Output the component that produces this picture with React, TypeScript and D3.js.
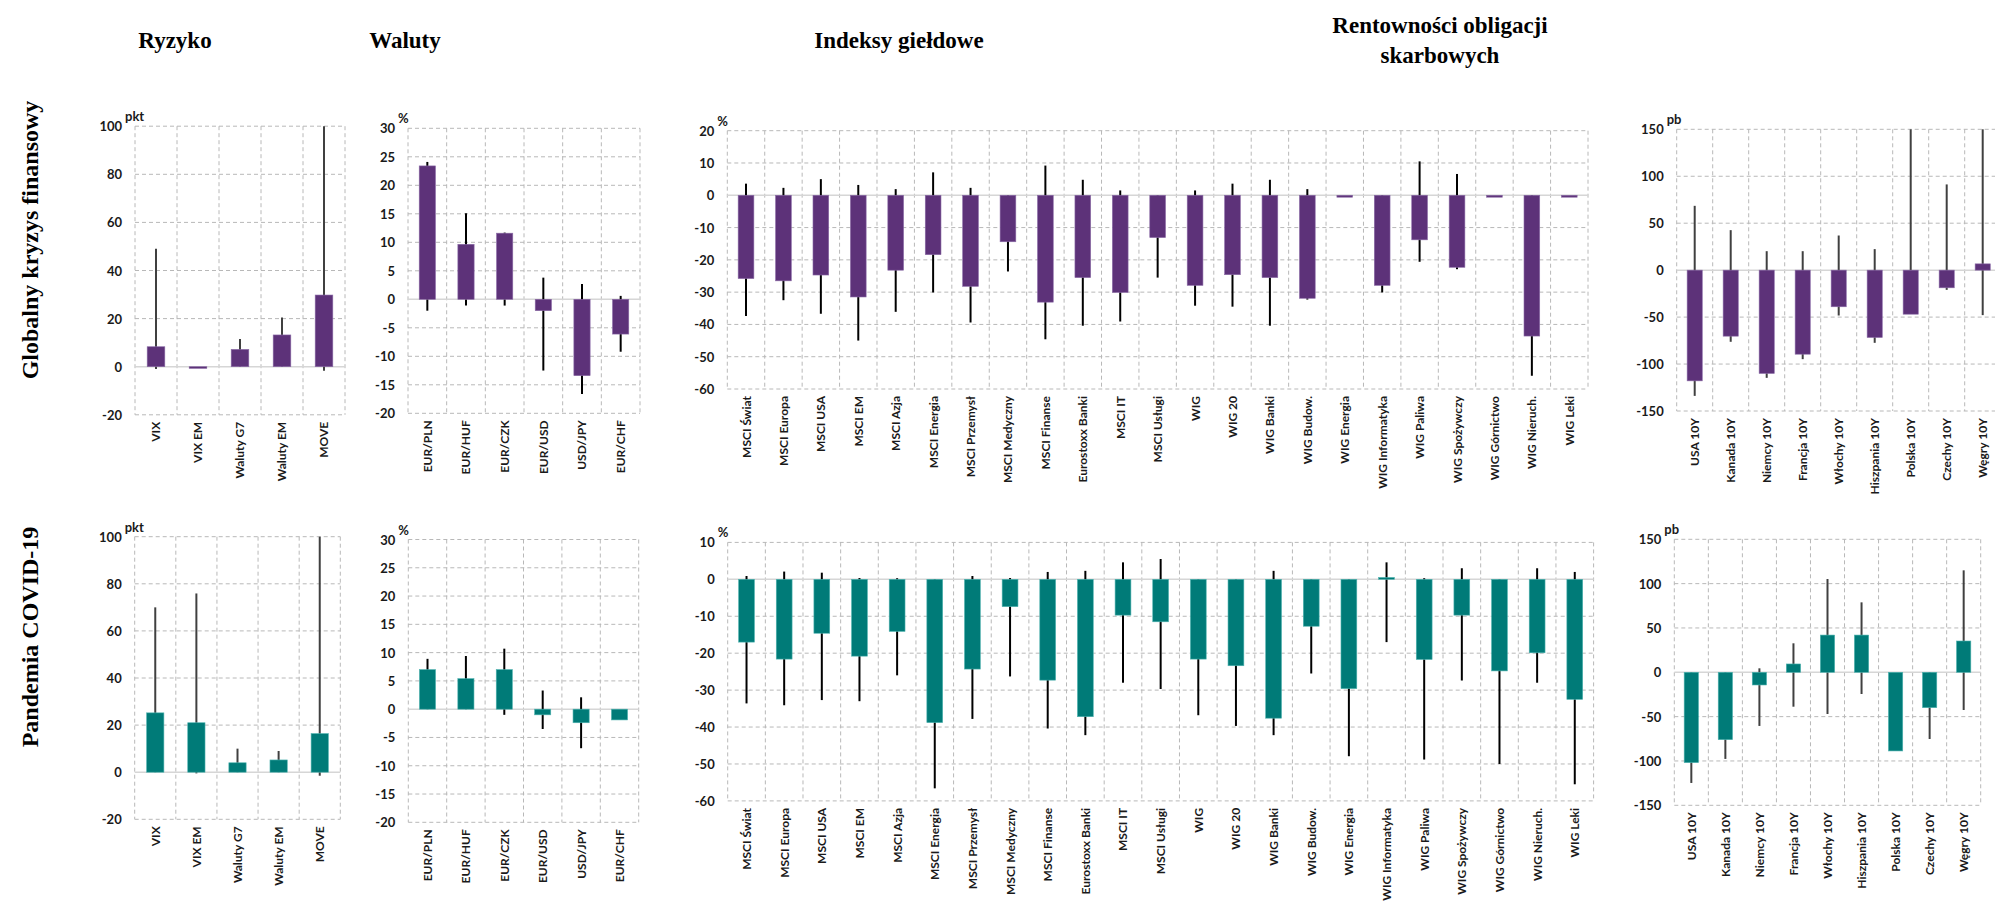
import React from 'react';
import * as d3 from 'd3';

// ---------- categories ----------
const riskCats = ['VIX', 'VIX EM', 'Waluty G7', 'Waluty EM', 'MOVE'];
const fxCats = ['EUR/PLN', 'EUR/HUF', 'EUR/CZK', 'EUR/USD', 'USD/JPY', 'EUR/CHF'];
const eqCats = [
  'MSCI Świat', 'MSCI Europa', 'MSCI USA', 'MSCI EM', 'MSCI Azja', 'MSCI Energia',
  'MSCI Przemysł', 'MSCI Medyczny', 'MSCI Finanse', 'Eurostoxx Banki', 'MSCI IT',
  'MSCI Usługi', 'WIG', 'WIG 20', 'WIG Banki', 'WIG Budow.', 'WIG Energia',
  'WIG Informatyka', 'WIG Paliwa', 'WIG Spożywczy', 'WIG Górnictwo', 'WIG Nieruch.', 'WIG Leki',
];
const bondCats = ['USA 10Y', 'Kanada 10Y', 'Niemcy 10Y', 'Francja 10Y', 'Włochy 10Y', 'Hiszpania 10Y', 'Polska 10Y', 'Czechy 10Y', 'Węgry 10Y'];

// ---------- ticks ----------
const riskTicks = [-20, 0, 20, 40, 60, 80, 100];
const fxTicks = [-20, -15, -10, -5, 0, 5, 10, 15, 20, 25, 30];
const eqTicksGfc = [-60, -50, -40, -30, -20, -10, 0, 10, 20];
const eqTicksCovid = [-60, -50, -40, -30, -20, -10, 0, 10];
const bondTicks = [-150, -100, -50, 0, 50, 100, 150];

// ---------- Globalny kryzys finansowy ----------
const gfcRiskValue = [8.3, -0.7, 7.2, 13.2, 29.8];
const gfcRiskMax = [49, null, 11.5, 20.5, 100];
const gfcRiskMin = [-1, null, null, null, -1.7];

const gfcFxValue = [23.4, 9.65, 11.6, -2.0, -13.4, -6.1];
const gfcFxMax = [24.1, 15.1, 11.7, 3.8, 2.7, 0.6];
const gfcFxMin = [-2.0, -1.1, -1.1, -12.5, -16.6, -9.2];

const gfcEqValue = [-25.8, -26.5, -24.7, -31.5, -23.2, -18.4, -28.2, -14.4, -33.1, -25.5, -30.1, -13.1, -27.9, -24.6, -25.5, -31.9, -0.6, -27.9, -13.8, -22.3, -0.6, -43.6, -0.6];
const gfcEqMax = [3.6, 2.3, 5.0, 3.2, 1.9, 7.1, 2.3, null, 9.2, 4.8, 1.5, null, 1.5, 3.6, 4.8, 1.9, null, null, 10.5, 6.6, null, null, null];
const gfcEqMin = [-37.4, -32.5, -36.7, -45, -36.1, -30.1, -39.4, -23.6, -44.6, -40.4, -39.1, -25.5, -34.2, -34.5, -40.4, -32.3, null, -30.1, -20.6, -22.9, null, -55.9, null];

const gfcBondValue = [-117.9, -70.3, -110, -89.5, -39, -71.7, -46.9, -18.8, 6.7];
const gfcBondMax = [68.5, 42.6, 20.2, 20.2, 36.9, 22.4, 150, 91.3, 150];
const gfcBondMin = [-133.9, -76.3, -114.7, -94.8, -48.3, -77.4, null, -21, -47.9];

// ---------- Pandemia COVID-19 ----------
const covRiskValue = [25.2, 21.0, 4.0, 5.2, 16.4];
const covRiskMax = [70, 75.9, 10, 9, 100];
const covRiskMin = [null, -0.5, null, null, -1.5];

const covFxValue = [7.0, 5.4, 7.0, -1.0, -2.4, -1.9];
const covFxMax = [8.9, 9.4, 10.7, 3.3, 2.1, null];
const covFxMin = [null, null, -1.0, -3.5, -6.9, null];

const covEqValue = [-17.0, -21.6, -14.6, -20.8, -14.1, -38.8, -24.3, -7.4, -27.3, -37.2, -9.7, -11.5, -21.6, -23.4, -37.6, -12.7, -29.6, 0.5, -21.7, -9.7, -24.8, -19.9, -32.5];
const covEqMax = [0.9, 2.1, 1.8, 0.35, 0.3, null, 0.9, 0.35, 2.0, 2.3, 4.6, 5.5, null, null, 2.3, null, null, 4.6, 0.3, 3.0, null, 3.0, 2.0];
const covEqMin = [-33.6, -34.1, -32.7, -33.0, -26.0, -56.6, -37.8, -26.3, -40.4, -42.2, -28.0, -29.7, -36.8, -39.7, -42.2, -25.5, -47.9, -17.0, -48.8, -27.4, -50, -28, -55.5];

const covBondValue = [-101.9, -76, -14.3, 9.4, 42, 42, -88.7, -39.9, 35.3];
const covBondMax = [null, null, 4.5, 32.7, 105.2, 78.9, null, null, 115];
const covBondMin = [-124.8, -97.7, -60.5, -38.8, -47, -24.5, null, -75.2, -42.5];

// ---------- texts ----------
const columnTitles = ['Ryzyko', 'Waluty', 'Indeksy giełdowe'];
const bondTitleLines = ['Rentowności obligacji', 'skarbowych'];
const rowTitles = ['Globalny kryzys finansowy', 'Pandemia COVID-19'];

// ---------- styles ----------
const PURPLE = '#5d3279';
const PURPLE_EDGE = '#8a6aa6';
const TEAL = '#007b78';
const TEAL_EDGE = '#4fb3b0';
const GRID = '#b8b8b8';
const ZERO = '#d6d6d6';
const SANS = 'Lato, "Open Sans", sans-serif';
const SERIF = '"Liberation Serif", "Times New Roman", serif';

type PanelProps = {
  x0: number; x1: number; yTop: number; yBottom: number;
  ticks: number[]; cats: string[];
  values: number[]; maxs: (number | null)[]; mins: (number | null)[];
  fill: string; edge: string; whisker: string; unit: string;
};

function Panel(p: PanelProps) {
  const x = d3.scaleBand<string>().domain(p.cats).range([p.x0, p.x1]).paddingInner(0).paddingOuter(0);
  const y = d3.scaleLinear().domain([d3.min(p.ticks)!, d3.max(p.ticks)!]).range([p.yBottom, p.yTop]);
  const bw = x.bandwidth();
  const barW = bw * 0.42;
  const boundaries = d3.range(p.cats.length + 1).map((i) => p.x0 + i * bw);
  return (
    <g>
      {p.ticks.filter((t) => t !== 0).map((t) => (
        <line key={'h' + t} x1={p.x0} x2={p.x1} y1={y(t)} y2={y(t)} stroke={GRID} strokeWidth={1} strokeDasharray="4,3" />
      ))}
      {boundaries.map((bx, i) => (
        <line key={'v' + i} x1={bx} x2={bx} y1={p.yTop} y2={p.yBottom} stroke={GRID} strokeWidth={1} strokeDasharray="4,3" />
      ))}
      <line x1={p.x0} x2={p.x1} y1={y(0)} y2={y(0)} stroke={ZERO} strokeWidth={1.5} />
      {p.ticks.map((t) => (
        <text key={'t' + t} x={p.x0 - 13} y={y(t)} textAnchor="end" dominantBaseline="central"
          fontFamily={SANS} fontWeight={700} fontSize={13} fill="#1a1a1a">{t}</text>
      ))}
      <text x={p.x0 - 10} y={p.yTop - 5} fontFamily={SANS} fontWeight={700} fontSize={13} fill="#1a1a1a">{p.unit}</text>
      {p.cats.map((c, i) => {
        const cx = x(c)! + bw / 2;
        const hi = p.maxs[i];
        const lo = p.mins[i];
        if (hi === null && lo === null) return null;
        return (
          <line key={'w' + i} x1={cx} x2={cx} y1={y(hi ?? 0)} y2={y(lo ?? 0)} stroke={p.whisker} strokeWidth={2} />
        );
      })}
      {p.cats.map((c, i) => {
        const cx = x(c)! + bw / 2;
        const v = p.values[i];
        const yA = y(Math.max(0, v));
        const yB = y(Math.min(0, v));
        return (
          <rect key={'b' + i} x={cx - barW / 2} y={yA} width={barW} height={Math.max(yB - yA, 0.5)}
            fill={p.fill} stroke={p.edge} strokeWidth={0.6} />
        );
      })}
      {p.cats.map((c) => {
        const cx = x(c)! + bw / 2;
        const ly = p.yBottom + 7;
        return (
          <text key={'c' + c} x={cx} y={ly} transform={`rotate(-90 ${cx} ${ly})`} textAnchor="end" dominantBaseline="central"
            fontFamily={SANS} fontWeight={700} fontSize={12} fill="#1a1a1a">{c}</text>
        );
      })}
    </g>
  );
}

export default function App() {
  const W = 1995;
  const H = 913;
  const gfc = { fill: PURPLE, edge: PURPLE_EDGE };
  const cov = { fill: TEAL, edge: TEAL_EDGE };
  return (
    <svg width={W} height={H} style={{ position: 'absolute', left: 0, top: 0, background: '#fff' }}>
      <rect x={0} y={0} width={W} height={H} fill="#fff" />
      {/* column titles */}
      <text x={175} y={48} textAnchor="middle" fontFamily={SERIF} fontWeight={700} fontSize={23} fill="#000">{columnTitles[0]}</text>
      <text x={405} y={48} textAnchor="middle" fontFamily={SERIF} fontWeight={700} fontSize={23} fill="#000">{columnTitles[1]}</text>
      <text x={899} y={48} textAnchor="middle" fontFamily={SERIF} fontWeight={700} fontSize={23} fill="#000">{columnTitles[2]}</text>
      <text x={1440} y={33} textAnchor="middle" fontFamily={SERIF} fontWeight={700} fontSize={23} fill="#000">{bondTitleLines[0]}</text>
      <text x={1440} y={63} textAnchor="middle" fontFamily={SERIF} fontWeight={700} fontSize={23} fill="#000">{bondTitleLines[1]}</text>
      {/* row titles */}
      <text x={30} y={240} transform="rotate(-90 30 240)" textAnchor="middle" dominantBaseline="central" fontFamily={SERIF} fontWeight={700} fontSize={24} fill="#000">{rowTitles[0]}</text>
      <text x={30} y={637} transform="rotate(-90 30 637)" textAnchor="middle" dominantBaseline="central" fontFamily={SERIF} fontWeight={700} fontSize={24} fill="#000">{rowTitles[1]}</text>

      {/* row 1 */}
      <Panel x0={135} x1={345} yTop={126.2} yBottom={414.8} ticks={riskTicks} cats={riskCats}
        values={gfcRiskValue} maxs={gfcRiskMax} mins={gfcRiskMin} {...gfc} whisker="#404040" unit="pkt" />
      <Panel x0={408} x1={640} yTop={128.3} yBottom={413.3} ticks={fxTicks} cats={fxCats}
        values={gfcFxValue} maxs={gfcFxMax} mins={gfcFxMin} {...gfc} whisker="#000" unit="%" />
      <Panel x0={727.3} x1={1588} yTop={130.7} yBottom={389} ticks={eqTicksGfc} cats={eqCats}
        values={gfcEqValue} maxs={gfcEqMax} mins={gfcEqMin} {...gfc} whisker="#000" unit="%" />
      <Panel x0={1676.7} x1={2000.7} yTop={129.3} yBottom={411} ticks={bondTicks} cats={bondCats}
        values={gfcBondValue} maxs={gfcBondMax} mins={gfcBondMin} {...gfc} whisker="#404040" unit="pb" />

      {/* row 2 */}
      <Panel x0={134.7} x1={340.3} yTop={536.7} yBottom={819.3} ticks={riskTicks} cats={riskCats}
        values={covRiskValue} maxs={covRiskMax} mins={covRiskMin} {...cov} whisker="#404040" unit="pkt" />
      <Panel x0={408.3} x1={638.7} yTop={539.5} yBottom={822.3} ticks={fxTicks} cats={fxCats}
        values={covFxValue} maxs={covFxMax} mins={covFxMin} {...cov} whisker="#000" unit="%" />
      <Panel x0={727.7} x1={1593.6} yTop={542.4} yBottom={800.9} ticks={eqTicksCovid} cats={eqCats}
        values={covEqValue} maxs={covEqMax} mins={covEqMin} {...cov} whisker="#000" unit="%" />
      <Panel x0={1674.3} x1={1980.7} yTop={539.3} yBottom={805.3} ticks={bondTicks} cats={bondCats}
        values={covBondValue} maxs={covBondMax} mins={covBondMin} {...cov} whisker="#404040" unit="pb" />
    </svg>
  );
}
